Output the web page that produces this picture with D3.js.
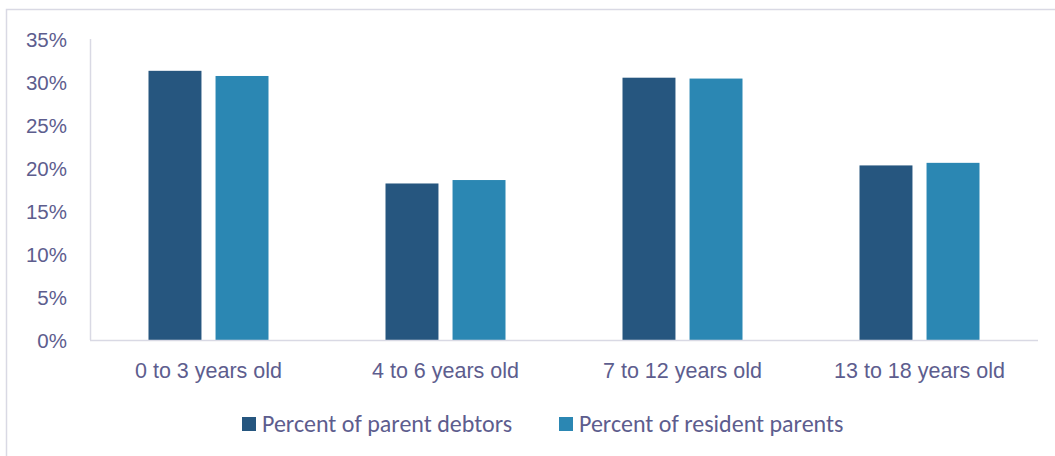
<!DOCTYPE html>
<html>
<head>
<meta charset="utf-8">
<script src="https://cdn.jsdelivr.net/npm/d3@7"></script>
<style>
  html, body { margin: 0; padding: 0; background: #ffffff; }
  svg { display: block; font-family: Carlito, Lato, "Open Sans", sans-serif; }
</style>
</head>
<body>
<svg id="chart" width="1055" height="456"></svg>
<script>
// Age groups of the children
const categories = ["0 to 3 years old", "4 to 6 years old", "7 to 12 years old", "13 to 18 years old"];
// Share of each group (percent)
const parentDebtors = [31.3, 18.2, 30.5, 20.3];
const residentParents = [30.7, 18.6, 30.4, 20.6];
const seriesNames = ["Percent of parent debtors", "Percent of resident parents"];
const yTicks = [0, 5, 10, 15, 20, 25, 30, 35];

const colors = ["#26567F", "#2B87B3"];
const textColor = "#5d5d8e";
const lineColor = "#d9d9e4";

const svg = d3.select("#chart");
const W = 1055, H = 456;

// Outer frame of the chart area
svg.append("rect")
  .attr("x", 6.5).attr("y", 9.5)
  .attr("width", W + 10).attr("height", H + 10)
  .attr("fill", "none").attr("stroke", lineColor).attr("stroke-width", 1.5);

const plot = { left: 90, right: 1038, top: 39, bottom: 340 };

const x0 = d3.scaleBand()
  .domain(categories)
  .range([plot.left, plot.right])
  .paddingInner(0)
  .paddingOuter(0);

const x1 = d3.scaleBand()
  .domain([0, 1])
  .range([58.5, x0.bandwidth() - 58.5])
  .paddingInner(0.21);

const y = d3.scaleLinear().domain([0, 35]).range([plot.bottom, plot.top]);

// Vertical axis line
svg.append("line")
  .attr("x1", plot.left + 0.5).attr("x2", plot.left + 0.5)
  .attr("y1", plot.top).attr("y2", plot.bottom)
  .attr("stroke", lineColor).attr("stroke-width", 1.5);

// Y tick labels
const yAxis = d3.axisLeft(y).tickValues(yTicks).tickFormat(d => d + "%").tickSize(0).tickPadding(23);
const yg = svg.append("g").attr("transform", `translate(${plot.left},0)`).call(yAxis);
yg.select(".domain").remove();
yg.selectAll("text")
  .attr("fill", textColor)
  .style("font-size", "20.5px")
  .attr("dy", "0.35em");

// Bars
const rows = categories.map((c, i) => ({ cat: c, vals: [parentDebtors[i], residentParents[i]] }));
const groups = svg.append("g").selectAll("g")
  .data(rows).join("g")
  .attr("transform", d => `translate(${x0(d.cat)},0)`);

groups.selectAll("rect")
  .data(d => d.vals.map((v, k) => ({ v, k })))
  .join("rect")
  .attr("x", d => x1(d.k))
  .attr("width", x1.bandwidth())
  .attr("y", d => y(d.v))
  .attr("height", d => y(0) - y(d.v))
  .attr("fill", d => colors[d.k]);

// Baseline
svg.append("line")
  .attr("x1", plot.left).attr("x2", plot.right)
  .attr("y1", plot.bottom + 0.5).attr("y2", plot.bottom + 0.5)
  .attr("stroke", lineColor).attr("stroke-width", 1.5);

// Category labels
const xAxis = d3.axisBottom(x0).tickSize(0).tickPadding(23);
const xg = svg.append("g").attr("transform", `translate(0,${plot.bottom})`).call(xAxis);
xg.select(".domain").remove();
xg.selectAll("text")
  .attr("fill", textColor)
  .style("font-size", "21.5px");

// Legend
const legendItems = [
  { name: seriesNames[0], x: 242, color: colors[0] },
  { name: seriesNames[1], x: 559, color: colors[1] }
];
const lg = svg.append("g").selectAll("g").data(legendItems).join("g")
  .attr("transform", d => `translate(${d.x},417)`);
lg.append("rect").attr("width", 14).attr("height", 14).attr("fill", d => d.color);
lg.append("text")
  .attr("x", 20).attr("y", 7).attr("dy", "0.35em")
  .attr("fill", textColor)
  .style("font-size", "24px")
  .text(d => d.name);
</script>
</body>
</html>
